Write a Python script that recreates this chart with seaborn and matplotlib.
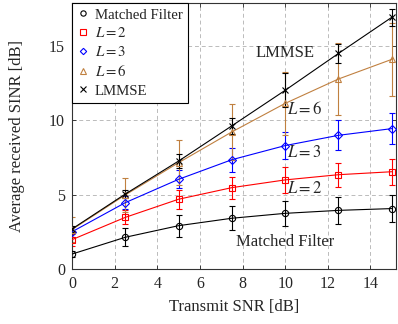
import numpy as np
import pandas as pd
import matplotlib
matplotlib.use("Agg")
import matplotlib.pyplot as plt
from matplotlib.lines import Line2D
import seaborn as sns

snr = [0, 2.5, 5, 7.5, 10, 12.5, 15]

mf = [1.0, 2.13, 2.91, 3.41, 3.74, 3.94, 4.06]
mf_err = [0.2, 0.6, 0.75, 0.82, 0.85, 0.9, 0.9]

l2 = [1.97, 3.47, 4.69, 5.47, 5.99, 6.34, 6.54]
l2_err = [0.4, 0.48, 0.65, 0.74, 0.85, 0.8, 0.88]

l3 = [2.5, 4.46, 6.03, 7.35, 8.3, 8.99, 9.44]
l3_err = [0.35, 0.45, 0.6, 0.82, 0.9, 1.0, 1.05]

l6 = [2.65, 4.98, 7.15, 9.22, 11.14, 12.78, 14.1]
l6_err = [0.85, 1.15, 1.5, 1.9, 2.1, 2.4, 2.47]

lmmse = [2.69, 5.04, 7.26, 9.63, 12.02, 14.5, 16.93]
lmmse_err = [0.2, 0.3, 0.5, 0.52, 1.15, 0.63, 0.56]

names = ["Matched Filter", "$L = 2$", "$L = 3$", "$L = 6$", "LMMSE"]
series = [mf, l2, l3, l6, lmmse]
errors = [mf_err, l2_err, l3_err, l6_err, lmmse_err]
colors = ["black", "#ff0000", "#0000ff", "#c08040", "black"]
markers = ["o", "s", "D", "^", "x"]
msizes = [4.5, 5, 3.8, 4.5, 4.5]

sns.set_style("ticks")
plt.rcParams["font.family"] = ["Liberation Serif", "DejaVu Serif"]
plt.rcParams["mathtext.fontset"] = "stix"

df = pd.DataFrame({
    "snr": snr * len(names),
    "sinr": sum(series, []),
    "scheme": sum([[n] * len(snr) for n in names], []),
})

fig = plt.figure(figsize=(3.98, 3.24), dpi=100)
ax = fig.add_axes([0.181, 0.17, 0.814, 0.821])

handles = []
for n, y, e, c, m, s in zip(names, series, errors, colors, markers, msizes):
    ax.errorbar(snr, y, yerr=e, fmt="none", ecolor=c, elinewidth=0.8,
                capsize=2.5, capthick=0.8, zorder=2)
    sns.lineplot(data=df[df["scheme"] == n], x="snr", y="sinr", ax=ax,
                 color=c, linewidth=0.8, marker=m, markersize=s,
                 markerfacecolor="none", markeredgecolor=c, markeredgewidth=0.8,
                 legend=False, zorder=3)
    handles.append(Line2D([], [], linestyle="none", marker=m, markersize=s * 0.85,
                          markerfacecolor="none", markeredgecolor=c,
                          markeredgewidth=0.8, label=n))

ax.set_xlim(0, 15.2)
ax.set_ylim(0, 17.9)
ax.set_xticks(np.arange(0, 15, 2))
ax.set_yticks([0, 5, 10, 15])
ax.grid(True, color="#bbbbbb", linestyle=(0, (4, 3)), linewidth=0.7)
ax.tick_params(direction="in", top=True, right=True, labelsize=11.5, length=3,
               width=0.6, pad=5)
for sp in ax.spines.values():
    sp.set_linewidth(0.8)
    sp.set_color("#333333")

ax.set_xlabel("Transmit SNR [dB]", fontsize=12, labelpad=5)
ax.set_ylabel("Average received SINR [dB]", fontsize=12, labelpad=17)

ax.text(10.0, 14.5, "LMMSE", fontsize=12, ha="center", va="center")
ax.text(10.1, 10.74, "$L = 6$", fontsize=12, ha="left", va="center")
ax.text(10.1, 7.8, "$L = 3$", fontsize=12, ha="left", va="center")
ax.text(10.1, 5.36, "$L = 2$", fontsize=12, ha="left", va="center")
ax.text(10.0, 1.84, "Matched Filter", fontsize=12, ha="center", va="center")

leg = ax.legend(handles=handles, loc="upper left", fontsize=10.7, frameon=True,
                fancybox=False, edgecolor="black", framealpha=1,
                handlelength=0.8, handletextpad=0.4, borderpad=0.35,
                labelspacing=0.33, borderaxespad=0.0)
leg.get_frame().set_linewidth(0.8)

fig.savefig("out.png", dpi=100)
